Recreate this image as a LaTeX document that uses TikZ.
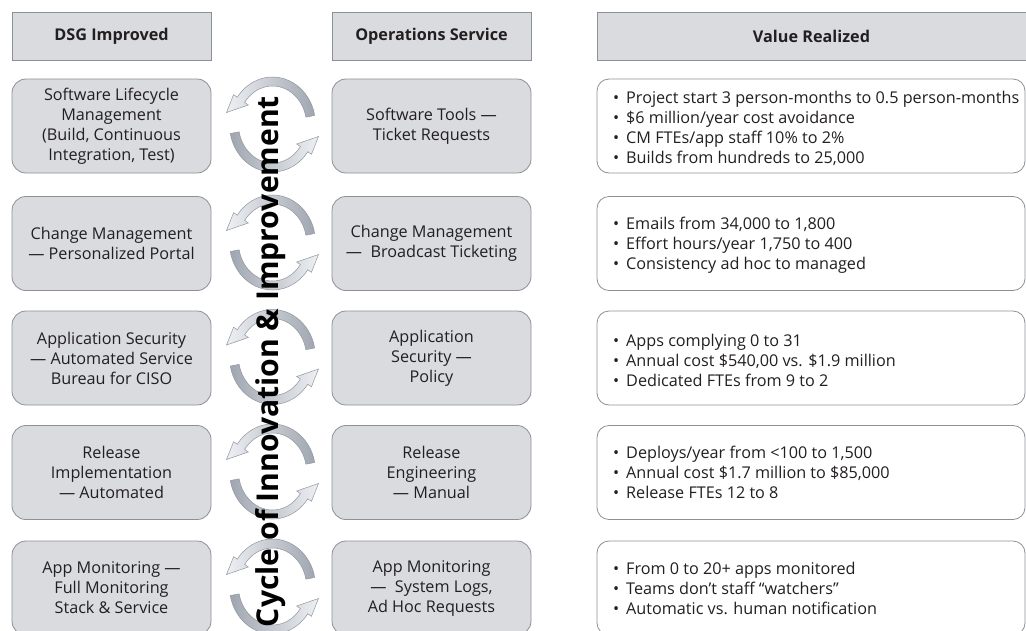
\documentclass[tikz,border=0pt]{standalone}
\usepackage{fontspec}
\setmainfont{Open Sans}
\usetikzlibrary{calc}
\definecolor{boxfill}{RGB}{217,219,223}
\definecolor{boxline}{RGB}{140,145,152}
\definecolor{textc}{RGB}{35,31,32}
\definecolor{arrowdark}{RGB}{160,166,176}
\definecolor{arrowlight}{RGB}{238,240,243}
\definecolor{arrowline}{RGB}{145,150,158}
\newcommand\vitem[1]{\makebox[13pt][l]{•}#1}
\newcommand\cycarrows[2]{%
\begin{scope}[shift={(#1,#2)}]
 \path[arrowst, left color=arrowlight, right color=arrowdark]
   (11:43 and 47.5) arc[start angle=11, end angle=145, x radius=43, y radius=47.5]
   -- (145:47.5 and 52) -- (-46,12) -- (145:29.5 and 34) -- (145:34 and 38.5)
   arc[start angle=145, end angle=11, x radius=34, y radius=38.5] -- cycle;
 \path[arrowst, left color=arrowdark, right color=arrowlight]
   (191:43 and 47.5) arc[start angle=191, end angle=325, x radius=43, y radius=47.5]
   -- (325:47.5 and 52) -- (46,-12) -- (325:29.5 and 34) -- (325:34 and 38.5)
   arc[start angle=325, end angle=191, x radius=34, y radius=38.5] -- cycle;
\end{scope}}
\begin{document}
\begin{tikzpicture}[x=1pt,y=1pt,
  basefont/.style={font=\fontsize{16.2}{20}\selectfont, text=textc},
  hdr/.style={basefont, draw=boxline, fill=boxfill, line width=0.8pt, minimum height=48pt, font=\bfseries\fontsize{16.2}{20}\selectfont},
  graybox/.style={basefont, draw=boxline, fill=boxfill, line width=0.8pt, rounded corners=14pt, minimum width=199pt, minimum height=94pt, align=center, inner sep=0pt},
  valbox/.style={draw=boxline, fill=white, line width=0.8pt, rounded corners=12pt, minimum width=428pt, minimum height=94pt},
  valtext/.style={basefont, anchor=west, align=left, inner sep=0pt},
  arrowst/.style={draw=arrowline, line width=0.5pt},
]
\clip (0,0) rectangle (1026,-630);
\fill[white] (0,0) rectangle (1026,-630);
% headers
\node[hdr, minimum width=199pt] (h1) at (111.5,-36) {DSG Improved};
\node[hdr, minimum width=199pt] (h2) at (431.5,-36) {Operations Service};
\node[hdr, minimum width=433pt] (h3) at (813.5,-36) {\hspace*{-4pt}Value Realized};
% left column
\node[graybox] (l1) at (111.5,-126) {Software Lifecycle\\Management\\(Build, Continuous\\Integration, Test)};
\node[graybox] (l2) at (111.5,-243.5) {Change Management\\— Personalized Portal};
\node[graybox] (l3) at (111.5,-358) {Application Security\\— Automated Service\\Bureau for CISO};
\node[graybox] (l4) at (111.5,-472.5) {Release\\Implementation\\— Automated};
\node[graybox] (l5) at (111.5,-588) {App Monitoring —\\Full Monitoring\\Stack \& Service};
% middle column
\node[graybox] (m1) at (431.5,-126) {Software Tools —\\Ticket Requests};
\node[graybox] (m2) at (431.5,-243.5) {Change Management\\—\ \ Broadcast Ticketing};
\node[graybox] (m3) at (431.5,-358) {Application\\Security —\\Policy};
\node[graybox] (m4) at (431.5,-472.5) {Release\\Engineering\\— Manual};
\node[graybox] (m5) at (431.5,-588) {App Monitoring\\—\ \ System Logs,\\Ad Hoc Requests};
% value boxes
\node[valbox] (v1) at (811,-126) {};
\node[valbox] (v2) at (811,-243.5) {};
\node[valbox] (v3) at (811,-358) {};
\node[valbox] (v4) at (811,-472.5) {};
\node[valbox] (v5) at (811,-588) {};
\node[valtext] (t1) at (613,-128) {\vitem{Project start 3 person-months to 0.5 person-months}\\\vitem{\$6 million/year cost avoidance}\\\vitem{CM FTEs/app staff 10\% to 2\%}\\\vitem{Builds from hundreds to 25,000}};
\node[valtext] (t2) at (613,-245) {\vitem{Emails from 34,000 to 1,800}\\\vitem{Effort hours/year 1,750 to 400}\\\vitem{Consistency ad hoc to managed}};
\node[valtext] (t3) at (613,-360) {\vitem{Apps complying 0 to 31}\\\vitem{Annual cost \$540,00 vs. \$1.9 million}\\\vitem{Dedicated FTEs from 9 to 2}};
\node[valtext] (t4) at (613,-472) {\vitem{Deploys/year from <100 to 1,500}\\\vitem{Annual cost \$1.7 million to \$85,000}\\\vitem{Release FTEs 12 to 8}};
\node[valtext] (t5) at (613,-588) {\vitem{From 0 to 20+ apps monitored}\\\vitem{Teams don’t staff “watchers”}\\\vitem{Automatic vs. human notification}};
% cycle arrows
\cycarrows{272.5}{-124.5}
\cycarrows{272.5}{-242.5}
\cycarrows{272.5}{-357}
\cycarrows{272.5}{-471.5}
\cycarrows{272.5}{-586.5}
% vertical title
\node[rotate=90, inner sep=0pt, font=\bfseries, text=black] (cyc) at (271,-361.5) {\resizebox{531pt}{!}{Cycle of Innovation \& Improvement}};
\end{tikzpicture}
\end{document}
